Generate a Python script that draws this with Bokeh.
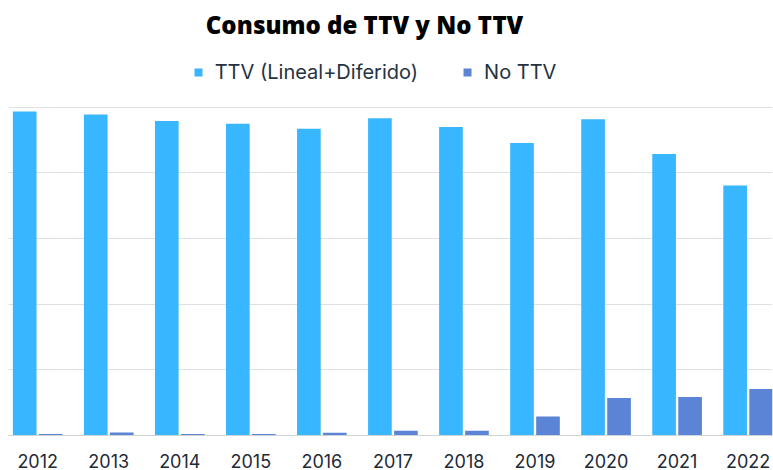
from bokeh.plotting import figure
from bokeh.models import (ColumnDataSource, Range1d, FixedTicker, Legend,
                          LegendItem, Label)
from bokeh.transform import dodge
from bokeh.embed import file_html
from bokeh.resources import INLINE

years = [2012, 2013, 2014, 2015, 2016, 2017, 2018, 2019, 2020, 2021, 2022]
ttv = [246.7, 244.4, 239.6, 237.4, 233.6, 241.7, 234.9, 222.8, 240.9, 214.4, 190.4]
no_ttv = [1.1, 2.3, 1.1, 1.1, 2.1, 3.6, 3.6, 14.4, 28.6, 29.3, 35.4]
series_names = ["TTV (Lineal+Diferido)", "No TTV"]
grid_ticks = [0, 50, 100, 150, 200, 250]
title_text = "Consumo de TTV y No TTV"

src = ColumnDataSource(dict(year=years, ttv=ttv, no_ttv=no_ttv))

p = figure(width=773, height=470, output_backend="svg", toolbar_location=None,
           x_range=Range1d(2011.589, 2022.343), y_range=Range1d(0, 331.3),
           y_axis_location=None, min_border_left=8, min_border_right=1,
           min_border_top=0, min_border_bottom=32)
p.outline_line_color = None
p.background_fill_color = "white"
p.border_fill_color = "white"
p.xgrid.visible = False
p.ygrid.ticker = FixedTicker(ticks=grid_ticks)
p.ygrid.grid_line_color = "#dde1e2"
p.ygrid.grid_line_width = 1

r1 = p.vbar(x=dodge("year", -0.183), top="ttv", width=0.333, source=src,
            fill_color="#38b6ff", line_color=None)
r2 = p.vbar(x=dodge("year", 0.183), top="no_ttv", width=0.333, source=src,
            fill_color="#5b84d6", line_color=None)

ax = p.xaxis[0]
ax.ticker = FixedTicker(ticks=years)
ax.major_tick_line_color = None
ax.minor_tick_line_color = None
ax.axis_line_color = "#cfd4d6"
ax.axis_line_width = 1
ax.major_label_text_font = "Inter"
ax.major_label_text_font_size = "18px"
ax.major_label_text_color = "#1e2a38"
ax.major_label_standoff = 12

legend = Legend(items=[LegendItem(label=series_names[0], renderers=[r1]),
                       LegendItem(label=series_names[1], renderers=[r2])],
                orientation="horizontal", location=(184.7, 351.5),
                glyph_width=10, glyph_height=10, label_standoff=12, spacing=44,
                padding=0, margin=0, border_line_color=None,
                background_fill_alpha=0,
                label_text_font="Inter", label_text_font_size="20px",
                label_text_color="#253241")
p.add_layout(legend, "center")

title = Label(x=356, y=411, x_units="screen", y_units="screen", text=title_text,
              text_align="center", text_baseline="middle",
              text_font="Open Sans ExtraBold, Open Sans",
              text_font_size="24px", text_font_style="bold", text_color="black")
p.add_layout(title)

open("out.html", "w").write(file_html(p, INLINE))
